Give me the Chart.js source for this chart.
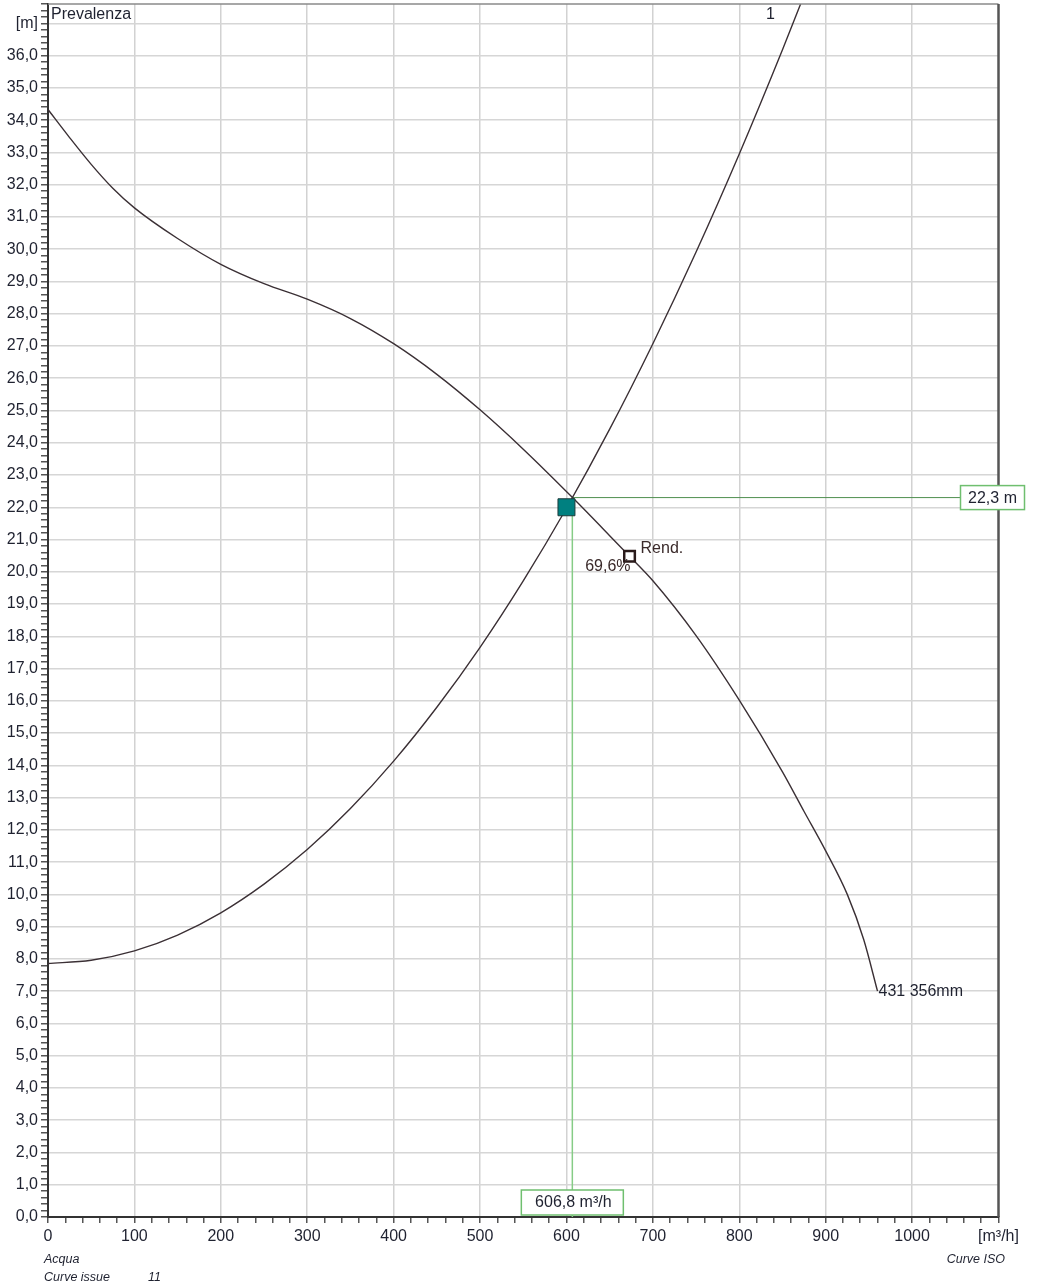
<!DOCTYPE html>
<html>
<head>
<meta charset="utf-8">
<script src="https://cdn.jsdelivr.net/npm/chart.js@4.4.0/dist/chart.umd.min.js"></script>
<style>
html, body { margin: 0; padding: 0; background: #fff; }
</style>
</head>
<body>
<canvas id="myChart" width="1037" height="1288"></canvas>
<script>
// pump curve (Q in m3/h, H in m)
const pumpQ = [0, 25, 50, 75, 100, 150, 200, 250, 300, 350, 400, 450, 500, 550, 607, 650, 673, 700, 750, 800, 850, 875, 900, 925, 944, 960];
const pumpH = [34.33, 33.46, 32.63, 31.89, 31.28, 30.33, 29.53, 28.93, 28.45, 27.85, 27.07, 26.12, 25.02, 23.8, 22.3, 21.12, 20.48, 19.72, 18.02, 16.02, 13.8, 12.57, 11.35, 10.0, 8.6, 7.0];
// system curve
const sysQ = [0, 50, 100, 150, 200, 250, 300, 350, 400, 450, 500, 550, 600, 650, 700, 750, 800, 850, 872];
const sysH = [7.86, 7.96, 8.25, 8.74, 9.43, 10.32, 11.39, 12.66, 14.13, 15.8, 17.66, 19.72, 21.97, 24.42, 27.07, 29.91, 32.95, 36.18, 37.67];

const opPoint = [606.8, 22.3];      // working point
const dutyPoint = [600, 22.0];      // requested point
const rendPoint = [673, 20.48];     // efficiency marker
const opQLabel = '606,8 m³/h';
const opHLabel = '22,3 m';
const rendLabel = '69,6%';
const curveName = '431 356mm';
const sysName = '1';
const yUnit = '[m]';
const xUnit = '[m³/h]';
const yMax = 37.6;
const xMax = 1100;

const toXY = (qs, hs) => qs.map((q, i) => ({x: q, y: hs[i]}));
const isWhole = v => Math.abs(v - Math.round(v)) < 1e-6;
const FONT = 'Liberation Sans, Arial, sans-serif';
const TXT = '#1f2230';

const textLayer = {
    id: 'textLayer',
    afterDatasetsDraw(chart) {
        const {ctx, chartArea: a, scales: {x, y}} = chart;
        ctx.save();
        // top and right frame
        ctx.strokeStyle = '#8a8a8a';
        ctx.lineWidth = 1.5;
        ctx.beginPath(); ctx.moveTo(a.left, a.top); ctx.lineTo(a.right, a.top); ctx.stroke();
        ctx.strokeStyle = '#555';
        ctx.lineWidth = 2.5;
        ctx.beginPath(); ctx.moveTo(a.right, a.top); ctx.lineTo(a.right, a.bottom); ctx.stroke();

        ctx.fillStyle = TXT;
        ctx.font = '16px ' + FONT;
        ctx.textBaseline = 'middle';
        ctx.textAlign = 'left';
        ctx.fillText('Prevalenza', a.left + 3, a.top + 11);

        ctx.textAlign = 'center';
        ctx.fillText(sysName, x.getPixelForValue(836), y.getPixelForValue(37.27));

        const rx = x.getPixelForValue(rendPoint[0]);
        const ry = y.getPixelForValue(rendPoint[1]);
        ctx.fillStyle = '#3a2a2a';
        ctx.textAlign = 'left';
        ctx.fillText('Rend.', rx + 11, ry - 8);
        ctx.textAlign = 'right';
        ctx.fillText(rendLabel, rx + 1, ry + 10);

        ctx.fillStyle = TXT;
        ctx.textAlign = 'left';
        const last = pumpQ.length - 1;
        ctx.fillText(curveName, x.getPixelForValue(pumpQ[last]) + 1, y.getPixelForValue(pumpH[last]));

        // value boxes
        ctx.lineWidth = 1.5;
        ctx.strokeStyle = '#6fbf6f';
        const hy = y.getPixelForValue(opPoint[1]);
        ctx.fillStyle = '#fff';
        ctx.fillRect(a.right - 38, hy - 12, 64, 24);
        ctx.strokeRect(a.right - 38, hy - 12, 64, 24);
        ctx.fillStyle = TXT;
        ctx.textAlign = 'center';
        ctx.fillText(opHLabel, a.right - 6, hy + 1);

        const vx = x.getPixelForValue(opPoint[0]);
        ctx.fillStyle = '#fff';
        ctx.fillRect(vx - 51, a.bottom - 27, 102, 25);
        ctx.strokeRect(vx - 51, a.bottom - 27, 102, 25);
        ctx.fillStyle = TXT;
        ctx.fillText(opQLabel, vx + 1, a.bottom - 14);

        // footer
        ctx.font = 'italic 12.5px ' + FONT;
        ctx.textAlign = 'left';
        ctx.fillText('Acqua', 44, 1260);
        ctx.fillText('Curve issue', 44, 1278);
        ctx.fillText('11', 148, 1278);
        ctx.textAlign = 'right';
        ctx.fillText('Curve ISO', 1005, 1260);
        ctx.restore();
    }
};

const ctx = document.getElementById('myChart');
new Chart(ctx, {
    type: 'line',
    data: {
        datasets: [
            {
                data: [{x: opPoint[0], y: opPoint[1]}, {x: opPoint[0], y: 0}],
                borderColor: '#86cc86',
                borderWidth: 1.5,
                pointRadius: 0,
                order: 3,
            },
            {
                data: [{x: opPoint[0], y: opPoint[1]}, {x: xMax, y: opPoint[1]}],
                borderColor: '#4f8f4f',
                borderWidth: 1,
                pointRadius: 0,
                order: 3,
            },
            {
                data: toXY(pumpQ, pumpH),
                borderColor: '#3b3035',
                borderWidth: 1.4,
                pointRadius: 0,
                cubicInterpolationMode: 'monotone',
                order: 2,
            },
            {
                data: toXY(sysQ, sysH),
                borderColor: '#3b3035',
                borderWidth: 1.4,
                pointRadius: 0,
                cubicInterpolationMode: 'monotone',
                order: 2,
            },
            {
                data: [{x: dutyPoint[0], y: dutyPoint[1]}],
                showLine: false,
                pointStyle: 'rect',
                pointRadius: 12,
                backgroundColor: '#008080',
                borderColor: '#1d3b3b',
                borderWidth: 1,
                order: 1,
            },
            {
                data: [{x: rendPoint[0], y: rendPoint[1]}],
                showLine: false,
                pointStyle: 'rect',
                pointRadius: 7.5,
                backgroundColor: '#fff',
                borderColor: '#2a1a1a',
                borderWidth: 2.5,
                order: 0,
            },
        ]
    },
    plugins: [textLayer],
    options: {
        responsive: false,
        animation: false,
        layout: { autoPadding: false, padding: { left: 0, right: 38.5, top: 4, bottom: 0 } },
        plugins: {
            legend: { display: false },
            tooltip: { enabled: false },
        },
        scales: {
            x: {
                type: 'linear',
                min: 0,
                max: xMax,
                afterFit: s => { s.height = 71; s.paddingLeft = 0; s.paddingRight = 0; },
                border: { color: '#333', width: 2 },
                grid: {
                    color: c => (c.tick && isWhole(c.tick.value / 100) && c.tick.value > 0 && c.tick.value < xMax) ? '#d2d2d2' : 'rgba(0,0,0,0)',
                    lineWidth: 1.5,
                    tickColor: '#555',
                    tickLength: 6,
                },
                ticks: {
                    stepSize: 20,
                    autoSkip: false,
                    maxRotation: 0,
                    padding: 4,
                    color: TXT,
                    font: { family: FONT, size: 16 },
                    callback: v => {
                        if (!isWhole(v / 100)) return '';
                        return Math.round(v) === xMax ? xUnit : String(Math.round(v));
                    }
                }
            },
            y: {
                min: 0,
                max: yMax,
                afterFit: s => { s.width = 48; s.paddingTop = 0; s.paddingBottom = 0; },
                border: { color: '#333', width: 2 },
                grid: {
                    color: c => (c.tick && isWhole(c.tick.value) && c.tick.value > 0) ? '#d6d6d6' : 'rgba(0,0,0,0)',
                    lineWidth: 1.5,
                    tickColor: '#555',
                    tickLength: 7,
                },
                ticks: {
                    stepSize: 0.2,
                    autoSkip: false,
                    padding: 3,
                    color: TXT,
                    font: { family: FONT, size: 16 },
                    callback: v => {
                        if (!isWhole(v)) return '';
                        const n = Math.round(v);
                        return n === 37 ? yUnit : n.toFixed(1).replace('.', ',');
                    }
                }
            }
        }
    }
});
</script>
</body>
</html>
